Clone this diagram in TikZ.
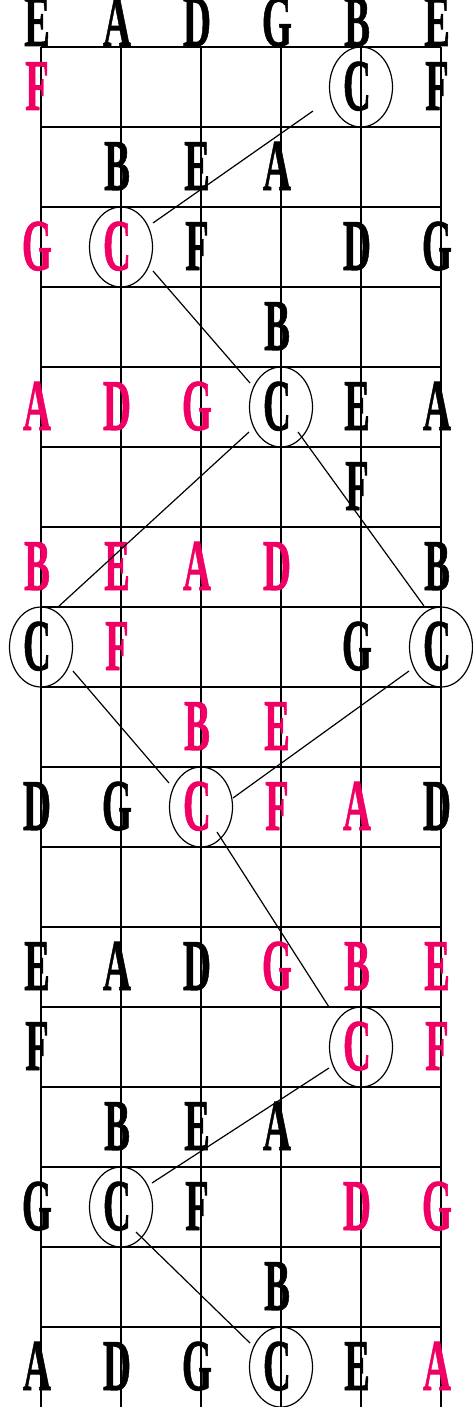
\documentclass[tikz,border=0pt]{standalone}
\usepackage{fontspec}
\setmainfont{Liberation Serif}[BoldFeatures={FakeBold=1.2}]
\usetikzlibrary{shapes.geometric,calc}
\definecolor{hot}{RGB}{240,0,100}
\begin{document}
\begin{tikzpicture}[x=1pt,y=-1pt,
  note/.style={anchor=base,inner sep=0pt,text height=48pt,text depth=0pt,font=\fontsize{73}{73}\selectfont\bfseries},
  ring/.style={ellipse,draw,line width=1.2pt,minimum width=63pt,minimum height=80pt,inner sep=0pt},
  grid/.style={line width=1.6pt},
  link/.style={line width=1.2pt}]
\useasboundingbox (0,0) rectangle (473,1407);
% frets and strings
\foreach \k in {0,...,16} \draw[grid] (41,{47+80*\k}) -- (441,{47+80*\k});
\foreach \i in {0,...,5} \draw[grid] ({41+80*\i},47) -- ({41+80*\i},1407);
% open strings
\foreach \s/\t in {1/E,2/A,3/D,4/G,5/B,6/E}
  \node[note] (n\s-0) at ({41+80*(\s-1)-4},46) {\scalebox{0.53}[1]{\t}};
% fretted notes
\foreach \s/\f/\t/\c in {
  1/1/F/hot, 5/1/C/black, 6/1/F/black,
  2/2/B/black, 3/2/E/black, 4/2/A/black,
  1/3/G/hot, 2/3/C/hot, 3/3/F/black, 5/3/D/black, 6/3/G/black,
  4/4/B/black,
  1/5/A/hot, 2/5/D/hot, 3/5/G/hot, 4/5/C/black, 5/5/E/black, 6/5/A/black,
  5/6/F/black,
  1/7/B/hot, 2/7/E/hot, 3/7/A/hot, 4/7/D/hot, 6/7/B/black,
  1/8/C/black, 2/8/F/hot, 5/8/G/black, 6/8/C/black,
  3/9/B/hot, 4/9/E/hot,
  1/10/D/black, 2/10/G/black, 3/10/C/hot, 4/10/F/hot, 5/10/A/hot, 6/10/D/black,
  1/12/E/black, 2/12/A/black, 3/12/D/black, 4/12/G/hot, 5/12/B/hot, 6/12/E/hot,
  1/13/F/black, 5/13/C/hot, 6/13/F/hot,
  2/14/B/black, 3/14/E/black, 4/14/A/black,
  1/15/G/black, 2/15/C/black, 3/15/F/black, 5/15/D/hot, 6/15/G/hot,
  4/16/B/black,
  1/17/A/black, 2/17/D/black, 3/17/G/black, 4/17/C/black, 5/17/E/black, 6/17/A/hot}
  \node[note,text=\c] (n\s-\f) at ({41+80*(\s-1)-4},{30+80*\f}) {\scalebox{0.53}[1]{\t}};
% rings round the C notes
\foreach \r/\s/\f in {1/5/1, 2/2/3, 3/4/5, 4/1/8, 5/6/8, 6/3/10, 7/5/13, 8/2/15, 9/4/17}
  \node[ring] (r\r) at ({41+80*(\s-1)},{7+80*\f}) {};
% connectors
\draw[link] ($(r1)+(-48,24)$) -- ($(r2)+(32,-24)$);
\draw[link] ($(r2)+(32,24)$) -- ($(r3)+(-31,-24)$);
\draw[link] ($(r3)+(-32,25)$) -- ($(r4)+(17,-40)$);
\draw[link] ($(r3)+(17,25)$) -- ($(r5)+(-17,-41)$);
\draw[link] ($(r4)+(32,24)$) -- ($(r6)+(-32,-24)$);
\draw[link] ($(r5)+(-32,24)$) -- ($(r6)+(32,-9)$);
\draw[link] ($(r6)+(16,25)$) -- ($(r7)+(-32,-40)$);
\draw[link] ($(r7)+(-32,21)$) -- ($(r8)+(31,-24)$);
\draw[link] ($(r8)+(15,25)$) -- ($(r9)+(-31,-24)$);
\end{tikzpicture}
\end{document}
